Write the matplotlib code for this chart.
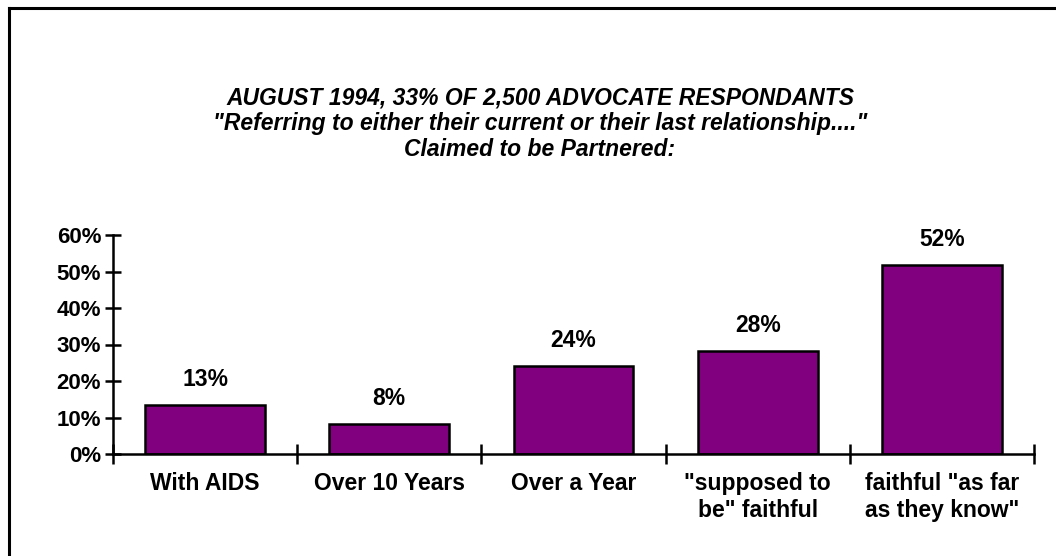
import matplotlib.pyplot as plt
from matplotlib.lines import Line2D
import numpy as np

# chart data
categories = ['With AIDS', 'Over 10 Years', 'Over a Year',
              '"supposed to\nbe" faithful', 'faithful "as far\nas they know"']
values = [13.4, 8.3, 24.2, 28.3, 51.8]
value_labels = ['13%', '8%', '24%', '28%', '52%']
yticks = [0, 10, 20, 30, 40, 50, 60]
title_lines = ['AUGUST 1994, 33% OF 2,500 ADVOCATE RESPONDANTS',
               '"Referring to either their current or their last relationship...."',
               'Claimed to be Partnered:']

plt.rcParams['font.family'] = ['Liberation Sans', 'DejaVu Sans']

W, H = 1056, 556
fig = plt.figure(figsize=(W / 100, H / 100), dpi=100)

# outer frame (only left and top edges are inside the picture)
fig.add_artist(Line2D([8.5 / W, 8.5 / W], [0, 1 - 7.5 / H], color='black', lw=2.2,
                      transform=fig.transFigure, solid_capstyle='projecting'))
fig.add_artist(Line2D([8.5 / W, 1.0], [1 - 7.5 / H, 1 - 7.5 / H], color='black', lw=2.2,
                      transform=fig.transFigure, solid_capstyle='projecting'))

# title
for i, line in enumerate(title_lines):
    fig.text(540 / W, 1 - (98 + 26 * i) / H, line, ha='center', va='center',
             fontsize=16.5, fontweight='bold', fontstyle='italic')

ax = fig.add_axes([113 / W, 1 - 454 / H, (1034 - 113) / W, (454 - 235) / H])
x = np.arange(len(categories))
ax.bar(x, values, width=0.65, color='#800080', edgecolor='black', linewidth=1.8)

for xi, v, lab in zip(x, values, value_labels):
    ax.annotate(lab, (xi, v), xytext=(0, 10), textcoords='offset points',
                ha='center', va='bottom', fontsize=16.5, fontweight='bold')

ax.set_xlim(-0.5, len(categories) - 0.5)
ax.set_ylim(0, 60)
ax.set_yticks(yticks)
ax.set_yticklabels([f'{t}%' for t in yticks], fontsize=16, fontweight='bold')

# category boundaries as x ticks, labels centred under each bar
ax.set_xticks(np.arange(len(categories) + 1) - 0.5)
ax.set_xticklabels([])
ax.tick_params(axis='x', direction='inout', length=14, width=1.8)
ax.tick_params(axis='y', direction='inout', length=11, width=1.8, pad=3)
for xi, cat in zip(x, categories):
    ax.text(xi, -0.08, cat, transform=ax.get_xaxis_transform(), ha='center', va='top',
            fontsize=16.5, fontweight='bold', linespacing=1.25)

for side in ['top', 'right']:
    ax.spines[side].set_visible(False)
for side in ['left', 'bottom']:
    ax.spines[side].set_linewidth(1.8)

fig.savefig('out.png', dpi=100)
